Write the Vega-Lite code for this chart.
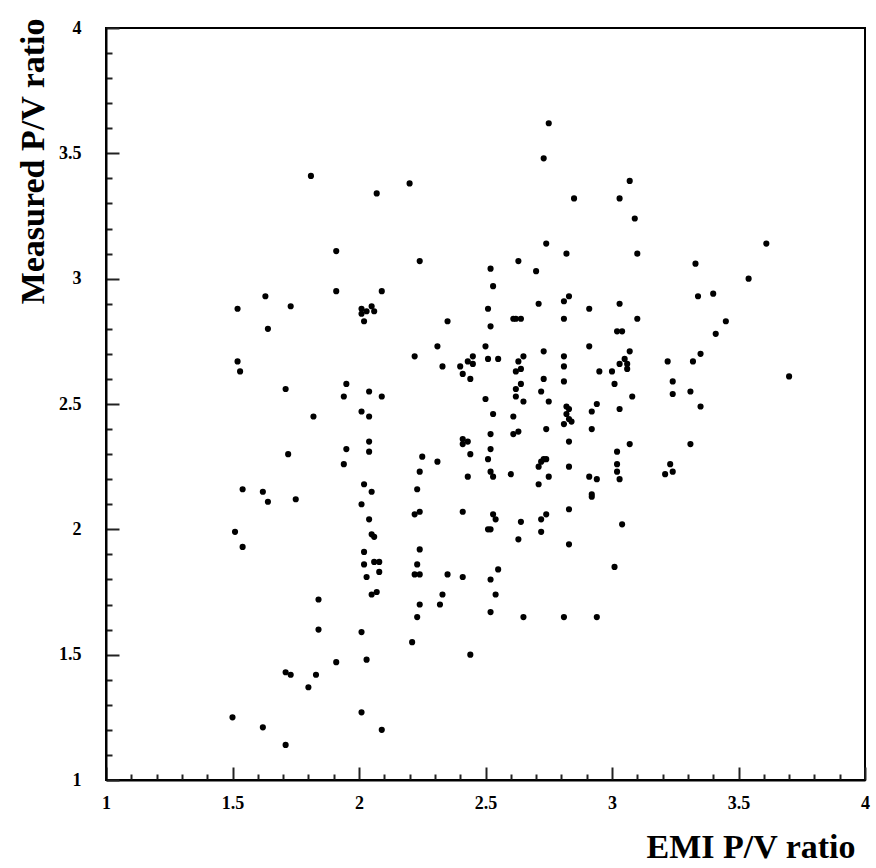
{
  "$schema": "https://vega.github.io/schema/vega-lite/v6.json",
  "width": 759,
  "height": 752,
  "autosize": "none",
  "padding": {"left": 106, "top": 28, "right": 11, "bottom": 88},
  "background": "white",
  "config": {
    "view": {"stroke": "black", "strokeWidth": 2},
    "axis": {
      "grid": false,
      "domainColor": "black",
      "domainWidth": 2,
      "labelFont": "Liberation Serif",
      "labelFontWeight": "bold",
      "labelFontSize": 18,
      "labelColor": "black",
      "titleFont": "Liberation Serif",
      "titleFontWeight": "bold",
      "titleFontSize": 34,
      "titleColor": "black"
    }
  },
  "data": {
    "values": [
      {"emi": 1.81, "measured": 3.41}, {"emi": 2.07, "measured": 3.34}, {"emi": 2.20, "measured": 3.38}, {"emi": 1.91, "measured": 3.11},
      {"emi": 1.63, "measured": 2.93}, {"emi": 1.52, "measured": 2.88}, {"emi": 1.73, "measured": 2.89}, {"emi": 1.64, "measured": 2.80},
      {"emi": 1.91, "measured": 2.95}, {"emi": 2.09, "measured": 2.95}, {"emi": 2.01, "measured": 2.88}, {"emi": 2.05, "measured": 2.89},
      {"emi": 2.06, "measured": 2.87}, {"emi": 2.01, "measured": 2.86}, {"emi": 2.03, "measured": 2.87}, {"emi": 2.02, "measured": 2.83},
      {"emi": 2.75, "measured": 3.62}, {"emi": 2.73, "measured": 3.48}, {"emi": 3.07, "measured": 3.39}, {"emi": 2.85, "measured": 3.32},
      {"emi": 3.03, "measured": 3.32}, {"emi": 3.09, "measured": 3.24}, {"emi": 2.74, "measured": 3.14}, {"emi": 2.82, "measured": 3.10},
      {"emi": 3.10, "measured": 3.10}, {"emi": 2.24, "measured": 3.07}, {"emi": 2.63, "measured": 3.07}, {"emi": 2.52, "measured": 3.04},
      {"emi": 2.70, "measured": 3.03}, {"emi": 2.53, "measured": 2.97}, {"emi": 2.83, "measured": 2.93}, {"emi": 2.81, "measured": 2.91},
      {"emi": 2.71, "measured": 2.90}, {"emi": 2.51, "measured": 2.88}, {"emi": 3.03, "measured": 2.90}, {"emi": 2.91, "measured": 2.88},
      {"emi": 2.35, "measured": 2.83}, {"emi": 2.61, "measured": 2.84}, {"emi": 2.62, "measured": 2.84}, {"emi": 2.64, "measured": 2.84},
      {"emi": 2.81, "measured": 2.84}, {"emi": 3.10, "measured": 2.84}, {"emi": 2.52, "measured": 2.81}, {"emi": 3.02, "measured": 2.79},
      {"emi": 3.04, "measured": 2.79}, {"emi": 2.31, "measured": 2.73}, {"emi": 2.50, "measured": 2.73}, {"emi": 2.91, "measured": 2.73},
      {"emi": 3.61, "measured": 3.14}, {"emi": 3.33, "measured": 3.06}, {"emi": 3.54, "measured": 3.00}, {"emi": 3.40, "measured": 2.94},
      {"emi": 3.34, "measured": 2.93}, {"emi": 3.45, "measured": 2.83}, {"emi": 3.41, "measured": 2.78}, {"emi": 1.52, "measured": 2.67},
      {"emi": 1.53, "measured": 2.63}, {"emi": 2.22, "measured": 2.69}, {"emi": 1.71, "measured": 2.56}, {"emi": 1.95, "measured": 2.58},
      {"emi": 1.94, "measured": 2.53}, {"emi": 2.04, "measured": 2.55}, {"emi": 2.09, "measured": 2.53}, {"emi": 2.01, "measured": 2.47},
      {"emi": 2.04, "measured": 2.45}, {"emi": 1.82, "measured": 2.45}, {"emi": 1.72, "measured": 2.30}, {"emi": 1.95, "measured": 2.32},
      {"emi": 1.94, "measured": 2.26}, {"emi": 2.04, "measured": 2.35}, {"emi": 2.04, "measured": 2.31}, {"emi": 2.25, "measured": 2.29},
      {"emi": 2.24, "measured": 2.23}, {"emi": 2.23, "measured": 2.16}, {"emi": 1.54, "measured": 2.16}, {"emi": 1.62, "measured": 2.15},
      {"emi": 1.64, "measured": 2.11}, {"emi": 1.75, "measured": 2.12}, {"emi": 2.02, "measured": 2.18}, {"emi": 2.05, "measured": 2.15},
      {"emi": 2.01, "measured": 2.10}, {"emi": 2.04, "measured": 2.04}, {"emi": 2.05, "measured": 1.98}, {"emi": 2.06, "measured": 1.97},
      {"emi": 1.51, "measured": 1.99}, {"emi": 1.54, "measured": 1.93}, {"emi": 2.02, "measured": 1.91}, {"emi": 2.02, "measured": 1.86},
      {"emi": 2.06, "measured": 1.87}, {"emi": 2.08, "measured": 1.87}, {"emi": 2.08, "measured": 1.83}, {"emi": 2.03, "measured": 1.81},
      {"emi": 2.22, "measured": 2.06}, {"emi": 2.24, "measured": 2.07}, {"emi": 2.24, "measured": 1.92}, {"emi": 2.23, "measured": 1.86},
      {"emi": 2.22, "measured": 1.82}, {"emi": 2.24, "measured": 1.82}, {"emi": 2.33, "measured": 2.65}, {"emi": 2.40, "measured": 2.65},
      {"emi": 2.43, "measured": 2.67}, {"emi": 2.45, "measured": 2.69}, {"emi": 2.45, "measured": 2.66}, {"emi": 2.41, "measured": 2.62},
      {"emi": 2.44, "measured": 2.60}, {"emi": 2.51, "measured": 2.68}, {"emi": 2.55, "measured": 2.68}, {"emi": 2.65, "measured": 2.69},
      {"emi": 2.63, "measured": 2.67}, {"emi": 2.64, "measured": 2.64}, {"emi": 2.62, "measured": 2.63}, {"emi": 2.73, "measured": 2.71},
      {"emi": 2.81, "measured": 2.69}, {"emi": 2.81, "measured": 2.65}, {"emi": 2.81, "measured": 2.59}, {"emi": 2.73, "measured": 2.60},
      {"emi": 2.64, "measured": 2.58}, {"emi": 2.62, "measured": 2.56}, {"emi": 2.72, "measured": 2.55}, {"emi": 2.62, "measured": 2.53},
      {"emi": 2.65, "measured": 2.51}, {"emi": 2.75, "measured": 2.51}, {"emi": 2.50, "measured": 2.52}, {"emi": 2.53, "measured": 2.46},
      {"emi": 2.61, "measured": 2.45}, {"emi": 2.95, "measured": 2.63}, {"emi": 3.00, "measured": 2.63}, {"emi": 3.03, "measured": 2.66},
      {"emi": 3.05, "measured": 2.68}, {"emi": 3.06, "measured": 2.66}, {"emi": 3.06, "measured": 2.64}, {"emi": 3.07, "measured": 2.71},
      {"emi": 3.01, "measured": 2.58}, {"emi": 3.08, "measured": 2.53}, {"emi": 2.82, "measured": 2.49}, {"emi": 2.83, "measured": 2.48},
      {"emi": 2.82, "measured": 2.46}, {"emi": 2.81, "measured": 2.42}, {"emi": 2.84, "measured": 2.43}, {"emi": 2.83, "measured": 2.44},
      {"emi": 2.94, "measured": 2.50}, {"emi": 2.92, "measured": 2.47}, {"emi": 3.03, "measured": 2.48}, {"emi": 2.92, "measured": 2.40},
      {"emi": 2.74, "measured": 2.40}, {"emi": 2.52, "measured": 2.38}, {"emi": 2.61, "measured": 2.38}, {"emi": 2.63, "measured": 2.39},
      {"emi": 2.41, "measured": 2.36}, {"emi": 2.43, "measured": 2.35}, {"emi": 2.41, "measured": 2.34}, {"emi": 2.44, "measured": 2.30},
      {"emi": 2.52, "measured": 2.32}, {"emi": 2.51, "measured": 2.28}, {"emi": 2.31, "measured": 2.27}, {"emi": 2.83, "measured": 2.35},
      {"emi": 3.07, "measured": 2.34}, {"emi": 3.02, "measured": 2.31}, {"emi": 2.73, "measured": 2.28}, {"emi": 2.74, "measured": 2.28},
      {"emi": 2.72, "measured": 2.27}, {"emi": 2.71, "measured": 2.25}, {"emi": 2.83, "measured": 2.25}, {"emi": 3.02, "measured": 2.26},
      {"emi": 3.02, "measured": 2.23}, {"emi": 3.03, "measured": 2.20}, {"emi": 2.91, "measured": 2.21}, {"emi": 2.94, "measured": 2.20},
      {"emi": 2.92, "measured": 2.14}, {"emi": 2.92, "measured": 2.13}, {"emi": 2.52, "measured": 2.23}, {"emi": 2.53, "measured": 2.21},
      {"emi": 2.43, "measured": 2.21}, {"emi": 2.60, "measured": 2.22}, {"emi": 2.75, "measured": 2.21}, {"emi": 2.71, "measured": 2.18},
      {"emi": 2.41, "measured": 2.07}, {"emi": 2.53, "measured": 2.06}, {"emi": 2.54, "measured": 2.04}, {"emi": 2.51, "measured": 2.00},
      {"emi": 2.52, "measured": 2.00}, {"emi": 2.64, "measured": 2.03}, {"emi": 2.72, "measured": 2.04}, {"emi": 2.74, "measured": 2.06},
      {"emi": 2.83, "measured": 2.08}, {"emi": 2.72, "measured": 1.99}, {"emi": 2.63, "measured": 1.96}, {"emi": 2.83, "measured": 1.94},
      {"emi": 3.04, "measured": 2.02}, {"emi": 2.35, "measured": 1.82}, {"emi": 2.41, "measured": 1.81}, {"emi": 2.55, "measured": 1.84},
      {"emi": 2.52, "measured": 1.80}, {"emi": 3.01, "measured": 1.85}, {"emi": 3.35, "measured": 2.70}, {"emi": 3.22, "measured": 2.67},
      {"emi": 3.32, "measured": 2.67}, {"emi": 3.24, "measured": 2.59}, {"emi": 3.31, "measured": 2.55}, {"emi": 3.24, "measured": 2.54},
      {"emi": 3.35, "measured": 2.49}, {"emi": 3.70, "measured": 2.61}, {"emi": 3.31, "measured": 2.34}, {"emi": 3.23, "measured": 2.26},
      {"emi": 3.24, "measured": 2.23}, {"emi": 3.21, "measured": 2.22}, {"emi": 2.05, "measured": 1.74}, {"emi": 2.07, "measured": 1.75},
      {"emi": 2.24, "measured": 1.70}, {"emi": 2.23, "measured": 1.65}, {"emi": 2.21, "measured": 1.55}, {"emi": 1.84, "measured": 1.72},
      {"emi": 1.84, "measured": 1.60}, {"emi": 2.01, "measured": 1.59}, {"emi": 2.03, "measured": 1.48}, {"emi": 1.91, "measured": 1.47},
      {"emi": 1.71, "measured": 1.43}, {"emi": 1.73, "measured": 1.42}, {"emi": 1.83, "measured": 1.42}, {"emi": 1.80, "measured": 1.37},
      {"emi": 1.50, "measured": 1.25}, {"emi": 1.62, "measured": 1.21}, {"emi": 1.71, "measured": 1.14}, {"emi": 2.01, "measured": 1.27},
      {"emi": 2.09, "measured": 1.20}, {"emi": 2.33, "measured": 1.74}, {"emi": 2.32, "measured": 1.70}, {"emi": 2.54, "measured": 1.74},
      {"emi": 2.52, "measured": 1.67}, {"emi": 2.65, "measured": 1.65}, {"emi": 2.81, "measured": 1.65}, {"emi": 2.94, "measured": 1.65},
      {"emi": 2.44, "measured": 1.50}
    ]
  },
  "layer": [
    {
      "mark": {"type": "circle", "color": "black", "opacity": 0},
      "encoding": {
        "x": {
          "field": "emi",
          "type": "quantitative",
          "scale": {"domain": [1, 4], "nice": false, "zero": false},
          "axis": {
            "orient": "top",
            "offset": -752,
            "title": null,
            "labels": false,
            "domain": false,
            "values": [1.1, 1.2, 1.3, 1.4, 1.6, 1.7, 1.8, 1.9, 2.1, 2.2, 2.3, 2.4, 2.6, 2.7, 2.8, 2.9, 3.1, 3.2, 3.3, 3.4, 3.6, 3.7, 3.8, 3.9],
            "ticks": true,
            "tickColor": "#222222",
            "tickWidth": 2,
            "tickSize": 6
          }
        },
        "y": {
          "field": "measured",
          "type": "quantitative",
          "scale": {"domain": [1, 4], "nice": false, "zero": false},
          "axis": {
            "orient": "right",
            "offset": -759,
            "title": null,
            "labels": false,
            "domain": false,
            "values": [1.1, 1.2, 1.3, 1.4, 1.6, 1.7, 1.8, 1.9, 2.1, 2.2, 2.3, 2.4, 2.6, 2.7, 2.8, 2.9, 3.1, 3.2, 3.3, 3.4, 3.6, 3.7, 3.8, 3.9],
            "ticks": true,
            "tickColor": "#222222",
            "tickWidth": 2,
            "tickSize": 6
          }
        }
      }
    },
    {
      "mark": {"type": "circle", "color": "black", "opacity": 1, "size": 38},
      "encoding": {
        "x": {
          "field": "emi",
          "type": "quantitative",
          "axis": {
            "orient": "bottom",
            "title": "EMI P/V ratio",
            "values": [1, 1.5, 2, 2.5, 3, 3.5, 4],
            "format": "~g",
            "ticks": true,
            "tickColor": "#222222",
            "tickWidth": 2,
            "tickSize": -13,
            "labelPadding": 27,
            "labelFlush": false,
            "labelOverlap": false,
            "titleAnchor": "end",
            "titleAlign": "right",
            "titleX": 749,
            "titleY": 77,
            "titleBaseline": "alphabetic"
          }
        },
        "y": {
          "field": "measured",
          "type": "quantitative",
          "axis": {
            "orient": "left",
            "title": "Measured P/V ratio",
            "values": [1, 1.5, 2, 2.5, 3, 3.5, 4],
            "format": "~g",
            "ticks": true,
            "tickColor": "#222222",
            "tickWidth": 2,
            "tickSize": -13,
            "labelPadding": 38,
            "labelFlush": false,
            "labelOverlap": false,
            "titleAnchor": "end",
            "titleAlign": "right",
            "titleAngle": -90,
            "titleX": -63,
            "titleY": -10,
            "titleBaseline": "alphabetic"
          }
        }
      }
    }
  ],
  "resolve": {"axis": {"x": "independent", "y": "independent"}}
}
